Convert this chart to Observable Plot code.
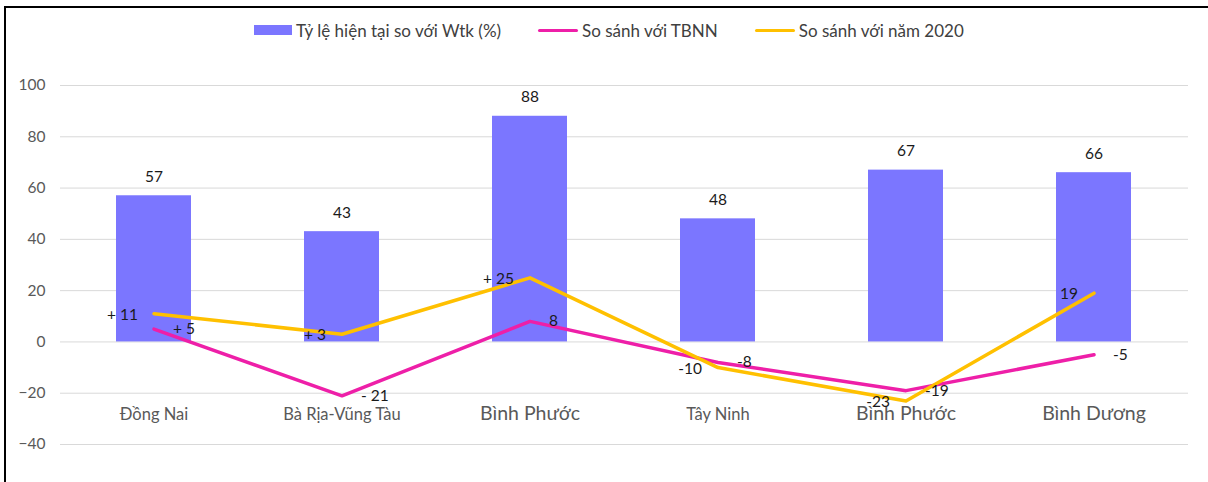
<!DOCTYPE html>
<html>
<head>
<meta charset="utf-8">
<script src="https://cdn.jsdelivr.net/npm/d3@7"></script>
<script src="https://cdn.jsdelivr.net/npm/@observablehq/plot@0.6"></script>
<style>
  html, body { margin: 0; padding: 0; background: #fff; }
  #wrap { position: relative; width: 1208px; height: 482px; overflow: hidden; font-family: Lato, "Open Sans", sans-serif; }
  #border { position: absolute; left: 4px; top: 6px; right: -10px; bottom: -10px; border-top: 2px solid #000; border-left: 2px solid #000; pointer-events: none; }
  #legend { position: absolute; top: 19px; left: 254px; height: 22px; display: flex; align-items: center; font-size: 17px; color: #404040; white-space: nowrap; }
  .item { display: flex; align-items: center; }
  .sw { display: inline-block; margin-right: 4px; }
  #chart { position: absolute; left: 0; top: 0; }
</style>
</head>
<body>
<div id="wrap">
  <div id="chart"></div>
  <div id="legend"></div>
  <div id="border"></div>
</div>
<script>
const regions = ["Đồng Nai", "Bà Rịa-Vũng Tàu", "Bình Phước", "Tây Ninh", "Bình Phước", "Bình Dương"];
const ratio = [57, 43, 88, 48, 67, 66];
const vsTBNN = [5, -21, 8, -8, -19, -5];
const vs2020 = [11, 3, 25, -10, -23, 19];
const labelsTBNN = ["+ 5", "- 21", "8", "-8", "-19", "-5"];
const labels2020 = ["+ 11", "+ 3", "+ 25", "-10", "-23", "19"];
const yTicks = [-40, -20, 0, 20, 40, 60, 80, 100];
const seriesNames = ["Tỷ lệ hiện tại so với Wtk (%)", "So sánh với TBNN", "So sánh với năm 2020"];

const colBar = "#7B76FF", colTBNN = "#EE1FA8", colY2020 = "#FFC000";
const font = "Lato, 'Open Sans', sans-serif";

const data = regions.map((r, i) => ({
  i, region: r, ratio: ratio[i], tbnn: vsTBNN[i], y2020: vs2020[i],
  lt: labelsTBNN[i], l20: labels2020[i]
}));
const idx = data.map(d => d.i);
const small = idx.filter(i => !regions[i].startsWith("Bình"));
const big = idx.filter(i => regions[i].startsWith("Bình"));

const chart = Plot.plot({
  width: 1208,
  height: 482,
  marginTop: 85,
  marginBottom: 38,
  marginLeft: 60,
  marginRight: 20,
  style: { fontFamily: font, background: "transparent" },
  x: { type: "band", domain: idx, paddingInner: 0.6, paddingOuter: 0.3, axis: null },
  y: { domain: [-40, 100], axis: null },
  marks: [
    Plot.gridY(yTicks, { stroke: "#d9d9d9", strokeOpacity: 1, strokeWidth: 1 }),
    Plot.axisY(yTicks, { tickSize: 0, tickPadding: 15, fontSize: 15.5, color: "#595959", label: null }),
    Plot.axisX(small, { anchor: "bottom", tickSize: 0, tickPadding: 0, dy: -36, fontSize: 16.5, color: "#595959", tickFormat: i => regions[i], label: null }),
    Plot.axisX(big, { anchor: "bottom", tickSize: 0, tickPadding: 0, dy: -38, fontSize: 19.5, color: "#595959", tickFormat: i => regions[i], label: null }),
    Plot.barY(data, { x: "i", y: "ratio", fill: colBar }),
    Plot.text(data, { x: "i", y: "ratio", text: d => String(d.ratio), dy: -19, fontSize: 15.5, fill: "#1a1a1a" }),
    Plot.line(data, { x: "i", y: "tbnn", stroke: colTBNN, strokeWidth: 3.5, strokeLinejoin: "round", strokeLinecap: "round" }),
    Plot.line(data, { x: "i", y: "y2020", stroke: colY2020, strokeWidth: 3.5, strokeLinejoin: "round", strokeLinecap: "round" }),
    Plot.text(data, { x: "i", y: "tbnn", text: "lt", textAnchor: "start", dx: 19, dy: 0, fontSize: 15.5, fill: "#1a1a1a" }),
    Plot.text(data, { x: "i", y: "y2020", text: "l20", textAnchor: "end", dx: -16, dy: 1, fontSize: 15.5, fill: "#1a1a1a" })
  ]
});
document.getElementById("chart").appendChild(chart);

// legend
const legend = document.getElementById("legend");
const swatches = [
  { name: seriesNames[0], color: colBar, kind: "rect" },
  { name: seriesNames[1], color: colTBNN, kind: "line" },
  { name: seriesNames[2], color: colY2020, kind: "line" }
];
swatches.forEach((s, k) => {
  const item = document.createElement("div");
  item.className = "item";
  if (k > 0) item.style.marginLeft = "37px";
  const sw = document.createElement("span");
  sw.className = "sw";
  sw.style.width = (s.kind === "rect" ? 38 : 40) + "px";
  sw.style.height = (s.kind === "rect" ? 10 : 3) + "px";
  sw.style.background = s.color;
  if (s.kind === "line") sw.style.borderRadius = "2px";
  const t = document.createElement("span");
  t.textContent = s.name;
  item.appendChild(sw);
  item.appendChild(t);
  legend.appendChild(item);
});
</script>
</body>
</html>
